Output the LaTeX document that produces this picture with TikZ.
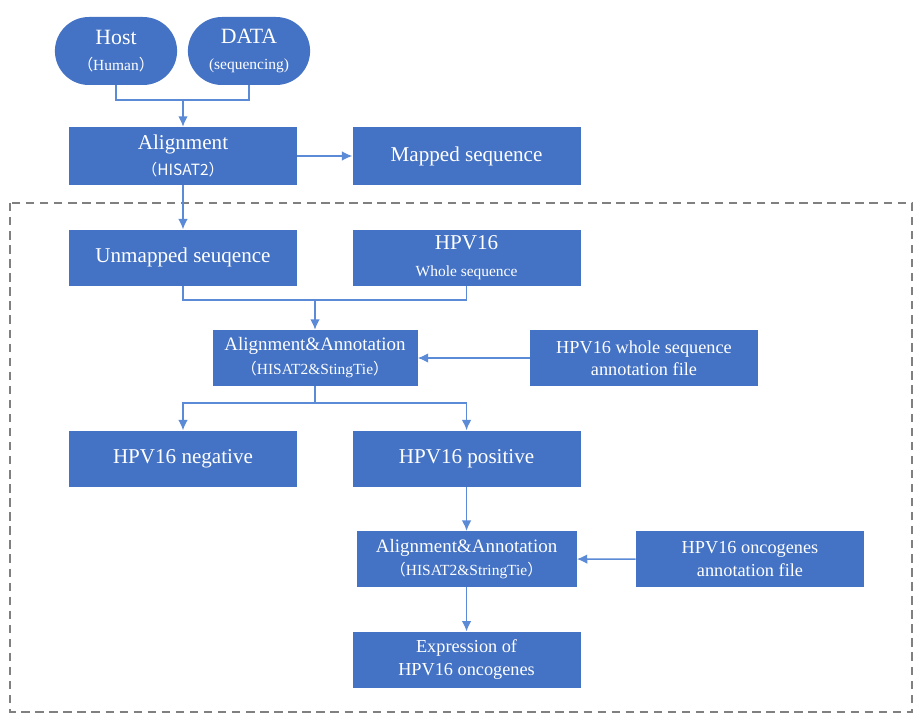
\documentclass[tikz,border=0pt]{standalone}
\usepackage{fontspec}
\setmainfont{Liberation Serif}
\newfontfamily\cjk{Noto Sans CJK SC}
\usetikzlibrary{arrows.meta, positioning, shapes.misc}
\definecolor{boxblue}{HTML}{4472C4}
\definecolor{lineblue}{HTML}{5B8BD6}
\newcommand{\lp}{{\cjk （}}
\newcommand{\rp}{{\cjk ）}}
\newcommand{\sub}[1]{\\[2pt]{\fontsize{11}{13}\selectfont #1}}

\begin{document}
\begin{tikzpicture}[
node distance=1.1cm and 1.375cm,
% Define block styles
source/.style = {rounded rectangle, minimum width=3.125cm, minimum height=1.7cm, inner sep=1pt, align=center, fill=boxblue, text=white, font=\fontsize{15.5}{17}\selectfont},
process/.style = {rectangle, minimum width=5.7cm, minimum height=1.4cm, align=center, fill=boxblue, text=white, font=\fontsize{15}{17}\selectfont},
tool/.style = {process, minimum width=5.125cm, font=\fontsize{13.5}{15}\selectfont},
info/.style = {process, font=\fontsize{13}{16}\selectfont},
line/.style = {draw=lineblue, line width=1pt},
arrow/.style = {line, -{Latex[length=2.6mm, width=2.4mm]}}
]
\useasboundingbox (0,0) rectangle (22.975,-17.85);

% Dashed frame
\draw [gray, line width=0.9pt, dash pattern=on 6pt off 4pt] (0.25,-5.075) rectangle (22.8,-17.8);

% Nodes
\node (host) [source] at (2.9,-1.275) {Host\sub{\lp Human\rp}};
\node (data) [source] at (6.225,-1.275) {DATA\sub{(sequencing)}};
\node (align) [process, minimum height=1.45cm] at (4.575,-3.9) {Alignment\sub{\cjk （HISAT2）}};
\node (mapped) [process, minimum height=1.45cm, right=of align] {Mapped sequence};

% Steps within the dashed frame
\node (unmapped) [process, below=of align] {Unmapped seuqence};
\node (hpv) [process, right=of unmapped] {HPV16\sub{Whole sequence}};
\node (annot) [tool] at (7.875,-8.95) {Alignment\&Annotation\sub{\lp HISAT2\&StingTie\rp}};
\node (wholefile) [info] at (16.1,-8.95) {HPV16 whole sequence\\annotation file};
\node (negative) [process, below=of unmapped |- annot.south] {HPV16 negative};
\node (positive) [process, below=of hpv |- annot.south] {HPV16 positive};
\node (annotonco) [tool, minimum width=5.5cm, below=of positive] {Alignment\&Annotation\sub{\lp HISAT2\&StringTie\rp}};
\node (oncofile) [info] at (18.75,-13.975) {HPV16 oncogenes\\annotation file};
\node (express) [info, below=of annotonco] {Expression of\\HPV16 oncogenes};

% Junctions
\coordinate (joinA) at (4.575,-2.5);
\coordinate (joinB) at (7.875,-7.5);
\coordinate (joinC) at (7.875,-10.075);

% Arrows
\draw [line] (host.south) |- (joinA) -| (data.south);
\draw [arrow] (joinA) -- (align);
\draw [arrow] (align) -- (mapped);
\draw [arrow] (align) -- (unmapped);
\draw [line] (unmapped.south) |- (joinB) -| (hpv.south);
\draw [arrow] (joinB) -- (annot);
\draw [arrow] (wholefile) -- (annot);
\draw [line] (annot.south) -- (joinC);
\draw [arrow] (joinC) -| (negative.north);
\draw [arrow] (joinC) -| (positive.north);
\draw [arrow] (positive) -- (annotonco);
\draw [arrow] (oncofile) -- (annotonco);
\draw [arrow] (annotonco) -- (express);
\end{tikzpicture}
\end{document}
